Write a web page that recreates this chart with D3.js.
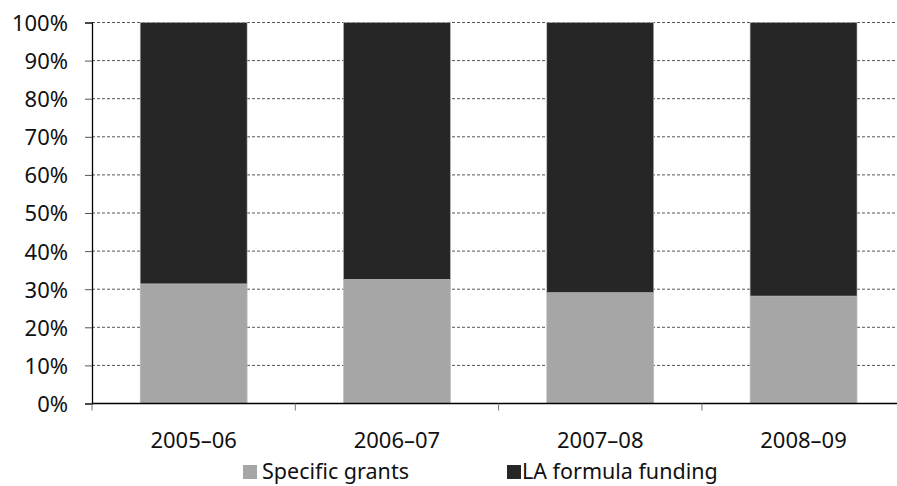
<!DOCTYPE html>
<html>
<head>
<meta charset="utf-8">
<script src="https://cdn.jsdelivr.net/npm/d3@7"></script>
<style>
  body { margin: 0; background: #fff; }
  text { font-family: "Noto Sans", sans-serif; fill: #111; }
</style>
</head>
<body>
<div id="chart"><svg></svg></div>
<script>
var years = ["2005–06", "2006–07", "2007–08", "2008–09"];
var specificGrants = [31.4, 32.6, 29.1, 28.2];
var laFormula = [68.6, 67.4, 70.9, 71.8];
var seriesNames = ["Specific grants", "LA formula funding"];
var yTicks = [0, 10, 20, 30, 40, 50, 60, 70, 80, 90, 100];

var width = 897, height = 486;
var margin = {left: 92, top: 22.5, bottom: 82.5};
var colors = ["#a6a6a6", "#262626"];

var svg = d3.select("#chart svg").attr("width", width).attr("height", height);

var x = d3.scaleBand().domain(years).range([margin.left, margin.left + 4 * 203.3])
    .paddingInner(0.474).paddingOuter(0.237);
var y = d3.scaleLinear().domain([0, 100]).range([height - margin.bottom, margin.top]);

// gridlines
svg.append("g").selectAll("line")
  .data(yTicks.slice(1))
  .enter().append("line")
  .attr("x1", margin.left).attr("x2", width)
  .attr("y1", function(d) { return y(d); }).attr("y2", function(d) { return y(d); })
  .attr("stroke", "#555").attr("stroke-width", 1).attr("stroke-dasharray", "3,2");

var rows = years.map(function(yr, i) {
  return {year: yr, a: specificGrants[i], b: laFormula[i]};
});
var stack = d3.stack().keys(["a", "b"])(rows);

svg.append("g").selectAll("g")
  .data(stack)
  .enter().append("g")
  .attr("fill", function(d, i) { return colors[i]; })
  .selectAll("rect")
  .data(function(d) { return d; })
  .enter().append("rect")
  .attr("x", function(d) { return x(d.data.year); })
  .attr("width", x.bandwidth())
  .attr("y", function(d) { return y(d[1]); })
  .attr("height", function(d) { return y(d[0]) - y(d[1]); })
  .attr("stroke", "#bbb").attr("stroke-width", 0.6);

// y axis
var yAxis = svg.append("g")
  .attr("transform", "translate(" + margin.left + ",0)")
  .call(d3.axisLeft(y).tickValues(yTicks).tickSize(7).tickPadding(17)
    .tickFormat(function(d) { return d + "%"; }));
yAxis.select(".domain").attr("stroke", "#000").attr("stroke-width", 1.3);
yAxis.selectAll(".tick line").attr("stroke", "#555");
yAxis.selectAll("text").style("font-size", "22px").style("font-family", "'Noto Sans', sans-serif")
  .attr("fill", "#111").attr("dy", "0.36em");

// x axis
var xAxis = svg.append("g")
  .attr("transform", "translate(0," + y(0) + ")");
xAxis.append("line").attr("x1", margin.left).attr("x2", width)
  .attr("stroke", "#000").attr("stroke-width", 1.3);
xAxis.selectAll(".xt")
  .data(years)
  .enter().append("line")
  .attr("x1", function(d) { return x(d) - x.step() * x.paddingInner() / 2; })
  .attr("x2", function(d) { return x(d) - x.step() * x.paddingInner() / 2; })
  .attr("y1", 0).attr("y2", 7)
  .attr("stroke", "#777");
xAxis.selectAll("text")
  .data(years)
  .enter().append("text")
  .attr("x", function(d) { return x(d) + x.bandwidth() / 2; })
  .attr("y", 44.5)
  .attr("text-anchor", "middle")
  .style("font-size", "22px")
  .text(function(d) { return d; });

// legend
var legendX = [243, 507];
var legend = svg.append("g").selectAll("g")
  .data(seriesNames)
  .enter().append("g")
  .attr("transform", function(d, i) { return "translate(" + legendX[i] + ",465)"; });
legend.append("rect").attr("width", 14).attr("height", 14)
  .attr("fill", function(d, i) { return colors[i]; });
legend.append("text").attr("x", function(d, i) { return i ? 15 : 19; }).attr("y", 14)
  .style("font-size", "21.5px")
  .text(function(d) { return d; });
</script>
</body>
</html>
